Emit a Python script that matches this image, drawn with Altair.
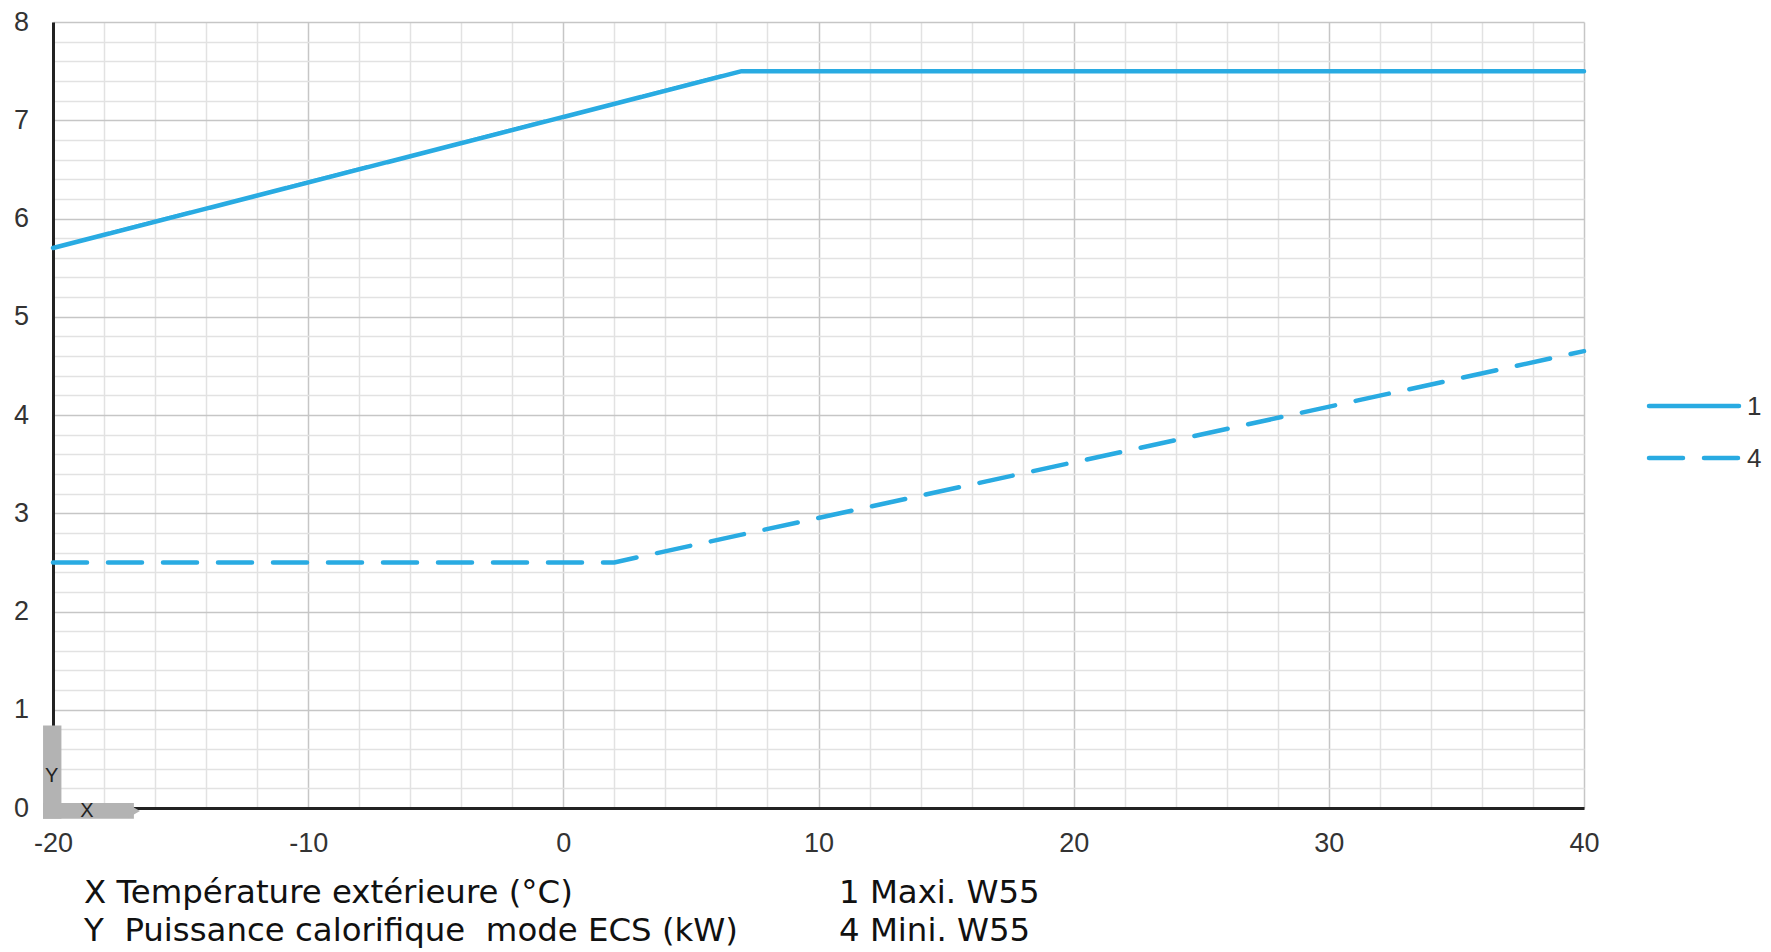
import altair as alt
import pandas as pd

# ---- data ----
x_max = [-20, 7, 40]
y_max = [5.7, 7.5, 7.5]
x_min = [-20, 2, 40]
y_min = [2.5, 2.5, 4.65]
series_names = ["1", "4"]
series_dash = [[1, 0], [34, 21]]

x_ticks = list(range(-20, 41, 2))
y_ticks = [round(i * 0.2, 1) for i in range(41)]

notes_left = ["X Température extérieure (°C)", "Y\u00a0\u00a0Puissance calorifique\u00a0\u00a0mode ECS (kW)"]
notes_right = ["1 Maxi. W55", "4 Mini. W55"]

# corner "Y / X" badge (data units)
badge_x = [-20.39, -20.39]
badge_x2 = [-19.67, -16.83]
badge_y = [-0.11, -0.11]
badge_y2 = [0.84, 0.05]
badge_labels = ["Y", "X"]
badge_lx = [-20.05, -18.67]
badge_ly = [0.33, -0.03]

BLUE = "#29abe2"
W, H = 1531, 786

lines = pd.DataFrame(
    {
        "x": x_max + x_min,
        "y": y_max + y_min,
        "serie": [series_names[0]] * len(x_max) + [series_names[1]] * len(x_min),
    }
)

x_scale = alt.Scale(domain=[-20, 40], nice=False, zero=False)
y_scale = alt.Scale(domain=[0, 8], nice=False, zero=False)

x_axis = alt.Axis(
    values=x_ticks,
    title=None,
    grid=True,
    gridColor={"condition": {"test": "datum.value % 10 === 0", "value": "#c6c6c6"}, "value": "#e2e2e2"},
    gridWidth=1.5,
    ticks=False,
    tickSize=0,
    domainColor="#222222",
    domainWidth=3,
    labelExpr="datum.value % 10 === 0 ? '' + datum.value : ''",
    labelFont="Liberation Sans",
    labelFontSize=27,
    labelColor="#333333",
    labelPadding=22,
    labelFlush=False,
    labelOverlap=False,
)
y_axis = alt.Axis(
    values=y_ticks,
    title=None,
    grid=True,
    gridColor={"condition": {"test": "datum.value % 1 === 0", "value": "#c6c6c6"}, "value": "#e2e2e2"},
    gridWidth=1.5,
    ticks=False,
    tickSize=0,
    domainColor="#222222",
    domainWidth=3,
    labelExpr="datum.value % 1 === 0 ? '' + datum.value : ''",
    labelFont="Liberation Sans",
    labelFontSize=27,
    labelColor="#333333",
    labelPadding=32,
    labelAlign="center",
    labelBaseline="middle",
    labelFlush=False,
    labelOverlap=False,
)

line_layer = (
    alt.Chart(lines)
    .mark_line(strokeWidth=4.5, strokeCap="round", color=BLUE)
    .encode(
        x=alt.X("x:Q", scale=x_scale, axis=x_axis),
        y=alt.Y("y:Q", scale=y_scale, axis=y_axis),
        strokeDash=alt.StrokeDash(
            "serie:N",
            scale=alt.Scale(domain=series_names, range=series_dash),
            legend=None,
        ),
    )
)

# hand-drawn legend on the right (pixel layout)
legend_layers = []
for i, (name, dash) in enumerate(zip(series_names, series_dash)):
    row_y = 384 + 52 * i
    legend_layers.append(
        alt.Chart(pd.DataFrame({"serie": [name]}))
        .mark_rule(strokeWidth=4.5, strokeCap="round", color=BLUE, strokeDash=dash)
        .encode(x=alt.value(1596), x2=alt.value(1686), y=alt.value(row_y))
    )
    legend_layers.append(
        alt.Chart(pd.DataFrame({"serie": [name]}))
        .mark_text(font="Liberation Sans", fontSize=26, color="#333333", align="left", baseline="middle")
        .encode(x=alt.value(1694), y=alt.value(row_y + 1), text="serie:N")
    )

badge = pd.DataFrame({"x": badge_x, "x2": badge_x2, "y": badge_y, "y2": badge_y2})
badge_layer = alt.Chart(badge).mark_rect(color="#b3b3b3").encode(
    x=alt.X("x:Q", scale=x_scale, axis=x_axis),
    x2="x2:Q",
    y=alt.Y("y:Q", scale=y_scale, axis=y_axis),
    y2="y2:Q",
)
tip = pd.DataFrame({"x": [badge_x2[1]], "y": [(badge_y[1] + badge_y2[1]) / 2]})
tip_layer = alt.Chart(tip).mark_point(shape="triangle-right", filled=True, color="#b3b3b3", opacity=1, size=200).encode(
    x=alt.X("x:Q", scale=x_scale, axis=x_axis),
    y=alt.Y("y:Q", scale=y_scale, axis=y_axis),
)
badge_text = pd.DataFrame({"x": badge_lx, "y": badge_ly, "t": badge_labels})
badge_text_layer = alt.Chart(badge_text).mark_text(
    font="Liberation Sans", fontSize=20, color="#222222", baseline="middle", align="center"
).encode(
    x=alt.X("x:Q", scale=x_scale, axis=x_axis),
    y=alt.Y("y:Q", scale=y_scale, axis=y_axis),
    text="t:N",
)


def note(text, px, py):
    return (
        alt.Chart(pd.DataFrame({"t": [text]}))
        .mark_text(font="DejaVu Sans", fontSize=32.4, color="#111111", align="left", baseline="alphabetic")
        .encode(x=alt.value(px), y=alt.value(py), text="t:N")
    )


notes = [
    note(notes_left[0], 31, 881),
    note(notes_left[1], 31, 919),
    note(notes_right[0], 786, 881),
    note(notes_right[1], 786, 919),
]

chart = (
    alt.layer(line_layer, badge_layer, tip_layer, badge_text_layer, *legend_layers, *notes)
    .properties(
        width=W,
        height=H,
        autosize=alt.AutoSizeParams(type="none"),
        padding={"left": 45, "top": 14, "right": 179, "bottom": 144},
    )
    .configure_view(stroke=None)
)

chart.save("out.html", embed_options={"renderer": "svg", "actions": False})
